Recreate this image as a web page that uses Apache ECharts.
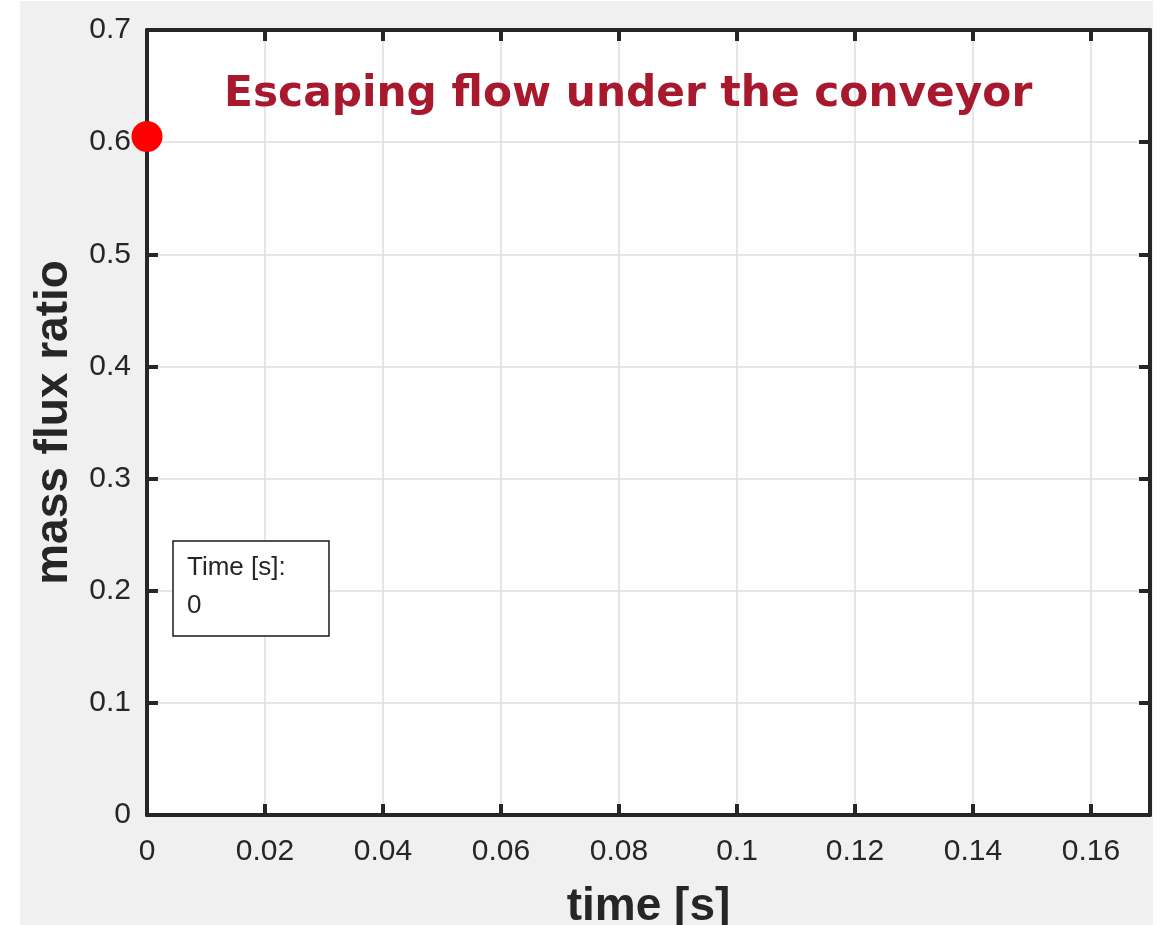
<!DOCTYPE html>
<html>
<head>
<meta charset="utf-8">
<script src="https://cdn.jsdelivr.net/npm/echarts@6/dist/echarts.min.js"></script>
<style>
html,body{margin:0;padding:0;background:#fff;}
#c{width:1162px;height:925px;}
</style>
</head>
<body>
<div id="c"></div>
<script>
// Data
const titleText = 'Escaping flow under the conveyor';
const xName = 'time [s]';
const yName = 'mass flux ratio';
const xMin = 0, xMax = 0.17, xInterval = 0.02;
const yMin = 0, yMax = 0.7, yInterval = 0.1;
const pointTime = [0];
const pointRatio = [0.605];
const annotationLabel = 'Time [s]:';
const annotationValue = '0';

const axisColor = '#262626';
const chart = echarts.init(document.getElementById('c'), null, {renderer: 'canvas'});

function fmt(v){ return String(Math.round(v*100)/100); }

const axisCommon = {
  axisLine: {show: true, onZero: false, lineStyle: {color: axisColor, width: 4}},
  axisTick: {show: true, inside: true, length: 11, lineStyle: {color: axisColor, width: 4}},
  splitLine: {show: true, lineStyle: {color: '#dedede', width: 1.5}},
};

const option = {
  animation: false,
  backgroundColor: '#fff',
  graphic: [
    {type: 'rect', z: -10, silent: true, shape: {x: 20, y: 1, width: 1133, height: 924}, style: {fill: '#f0f0f0'}},
    {type: 'text', z: 50, left: 224, top: 74, style: {text: titleText, fill: '#a8192e', font: 'bold 42.3px "DejaVu Sans"'}},
    {type: 'rect', z: 50, shape: {x: 173, y: 541, width: 156, height: 95}, style: {fill: '#fff', stroke: '#1a1a1a', lineWidth: 1.5}},
    {type: 'text', z: 51, left: 187, top: 555, style: {text: annotationLabel, fill: '#262626', font: '26px "Liberation Sans"'}},
    {type: 'text', z: 51, left: 187, top: 593, style: {text: annotationValue, fill: '#262626', font: '26px "Liberation Sans"'}}
  ],
  grid: {left: 147, top: 30, right: 12, bottom: 110, show: true, backgroundColor: '#fff', borderWidth: 0,
         containLabel: false, outerBoundsMode: 'none'},
  xAxis: [
    Object.assign({}, axisCommon, {
      type: 'value', min: xMin, max: xMax, interval: xInterval, position: 'bottom',
      name: xName, nameLocation: 'middle', nameGap: 69,
      nameTextStyle: {color: axisColor, fontSize: 46, fontWeight: 'bold', fontFamily: 'Liberation Sans'},
      axisLabel: {color: axisColor, fontSize: 30, fontFamily: 'Liberation Sans', margin: 22, showMaxLabel: false, formatter: fmt}
    }),
    {
      type: 'value', min: xMin, max: xMax, interval: xInterval, position: 'top',
      axisLine: {show: true, onZero: false, lineStyle: {color: axisColor, width: 4}},
      axisTick: {show: true, inside: true, length: 11, lineStyle: {color: axisColor, width: 4}},
      axisLabel: {show: false}, splitLine: {show: false}
    }
  ],
  yAxis: [
    Object.assign({}, axisCommon, {
      type: 'value', min: yMin, max: yMax, interval: yInterval, position: 'left',
      name: yName, nameLocation: 'middle', nameGap: 70, nameRotate: 90,
      nameTextStyle: {color: axisColor, fontSize: 46, fontWeight: 'bold', fontFamily: 'Liberation Sans'},
      axisLabel: {color: axisColor, fontSize: 30, fontFamily: 'Liberation Sans', margin: 16, formatter: fmt}
    }),
    {
      type: 'value', min: yMin, max: yMax, interval: yInterval, position: 'right',
      axisLine: {show: true, onZero: false, lineStyle: {color: axisColor, width: 4}},
      axisTick: {show: true, inside: true, length: 11, lineStyle: {color: axisColor, width: 4}},
      axisLabel: {show: false}, splitLine: {show: false}
    }
  ],
  series: [{
    type: 'scatter',
    xAxisIndex: 0, yAxisIndex: 0,
    data: pointTime.map((t, i) => [t, pointRatio[i]]),
    symbol: 'circle', symbolSize: 31,
    itemStyle: {color: '#ff0000', opacity: 1},
    clip: false, z: 20
  }]
};
chart.setOption(option);
</script>
</body>
</html>
